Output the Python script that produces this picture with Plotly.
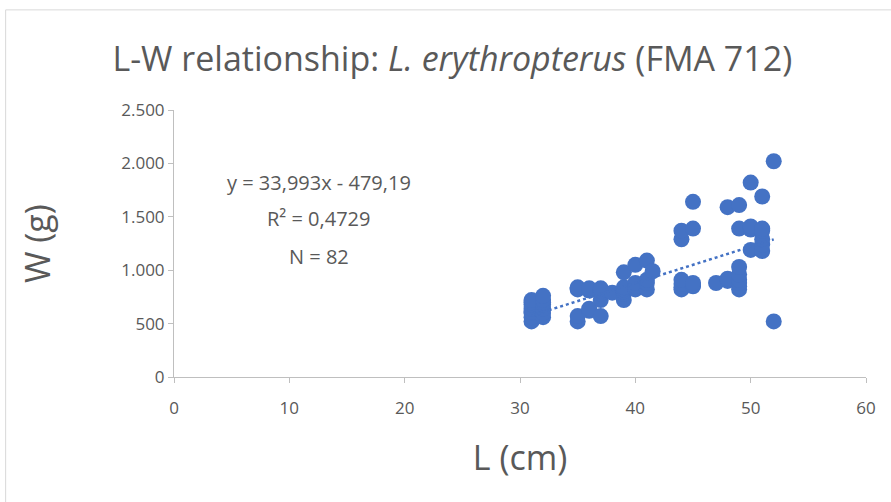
import plotly.graph_objects as go

# Specimen measurements: total length (cm) and weight (g)
length_cm = (
    [31] * 8 + [32] * 7 + [35] * 5 + [36] * 4 + [37] * 5 + [38] * 1 +
    [39] * 6 + [40] * 5 + [41] * 4 + [41.5] * 1 + [44] * 6 + [45] * 5 +
    [47] * 1 + [48] * 3 + [49] * 8 + [50] * 5 + [51] * 6 + [52] * 2
)
weight_g = (
    [520, 560, 600, 610, 640, 680, 700, 720] +
    [560, 600, 640, 680, 700, 720, 760] +
    [520, 570, 820, 830, 840] +
    [620, 640, 810, 830] +
    [570, 720, 780, 810, 830] +
    [790] +
    [720, 780, 800, 820, 840, 980] +
    [820, 830, 850, 880, 1050] +
    [820, 880, 910, 1090] +
    [990] +
    [820, 840, 870, 910, 1290, 1370] +
    [850, 860, 880, 1390, 1640] +
    [880] +
    [900, 920, 1590] +
    [820, 850, 880, 910, 960, 1030, 1390, 1610] +
    [1190, 1380, 1400, 1410, 1820] +
    [1180, 1240, 1290, 1370, 1390, 1690] +
    [520, 2020]
)

# Linear fit reported for the sample
slope = 33.993
intercept = -479.19
r_squared = "0,4729"
n_obs = len(length_cm)

x_ticks = [0, 10, 20, 30, 40, 50, 60]
y_ticks = [0, 500, 1000, 1500, 2000, 2500]
y_tick_text = ["0", "500", "1.000", "1.500", "2.000", "2.500"]

blue = "#4472C4"
grey_text = "#595959"
axis_grey = "#BFBFBF"
font_family = "Open Sans, Liberation Sans, sans-serif"

fit_x = [min(length_cm), max(length_cm)]
fit_y = [slope * v + intercept for v in fit_x]

fig = go.Figure()
fig.add_trace(go.Scatter(
    x=length_cm, y=weight_g, mode="markers",
    marker=dict(color=blue, size=16, line=dict(width=0)),
    showlegend=False, hoverinfo="x+y",
))
fig.add_trace(go.Scatter(
    x=fit_x, y=fit_y, mode="lines",
    line=dict(color=blue, width=2.5, dash="dot"),
    showlegend=False, hoverinfo="skip",
))

eq_text = (
    f"y = {str(slope).replace('.', ',')}x - {str(-intercept).replace('.', ',')}"
)
label_font = dict(family=font_family, size=20, color=grey_text)
fig.add_annotation(
    xref="paper", yref="paper", x=0.209, y=0.728, xanchor="center", yanchor="middle",
    text=eq_text, showarrow=False, font=label_font,
)
fig.add_annotation(
    xref="paper", yref="paper", x=0.209, y=0.594, xanchor="center", yanchor="middle",
    text=f"R² = {r_squared}", showarrow=False, font=label_font,
)
fig.add_annotation(
    xref="paper", yref="paper", x=0.209, y=0.452, xanchor="center", yanchor="middle",
    text=f"N = {n_obs}", showarrow=False, font=label_font,
)

# Chart outline
fig.add_shape(
    type="rect", xref="paper", yref="paper",
    x0=-0.2433, y0=-0.6, x1=1.2, y1=1.375,
    line=dict(color="#D9D9D9", width=1), fillcolor="rgba(0,0,0,0)", layer="below",
)

fig.update_layout(
    width=891, height=502,
    margin=dict(l=173.5, r=25, t=110, b=125.3),
    paper_bgcolor="white", plot_bgcolor="white",
    title=dict(
        text="L-W relationship: <i>L. erythropterus</i> (FMA 712)",
        x=(452 - 173.5) / 692.5, xref="paper", xanchor="center",
        y=1 - 59 / 502, yanchor="middle",
        font=dict(family=font_family, size=34, color=grey_text),
    ),
    font=dict(family=font_family, color=grey_text),
)

tick_font = dict(family=font_family, size=17, color=grey_text)
axis_title_font = dict(family=font_family, size=34, color=grey_text)

fig.update_xaxes(
    range=[0, 60], tickvals=x_ticks, ticktext=[str(v) for v in x_ticks],
    showgrid=False, zeroline=False, showline=True, linecolor=axis_grey, linewidth=1,
    ticks="outside", ticklen=5, tickcolor=axis_grey, ticklabelstandoff=11,
    tickfont=tick_font,
    title=dict(text="L (cm)", font=axis_title_font, standoff=27),
)
fig.update_yaxes(
    range=[0, 2500], tickvals=y_ticks, ticktext=y_tick_text,
    showgrid=False, zeroline=False, showline=True, linecolor=axis_grey, linewidth=1,
    ticks="outside", ticklen=5, tickcolor=axis_grey,
    tickfont=tick_font,
    title=dict(text="W (g)", font=axis_title_font, standoff=60),
)

fig.write_html("out.html")
